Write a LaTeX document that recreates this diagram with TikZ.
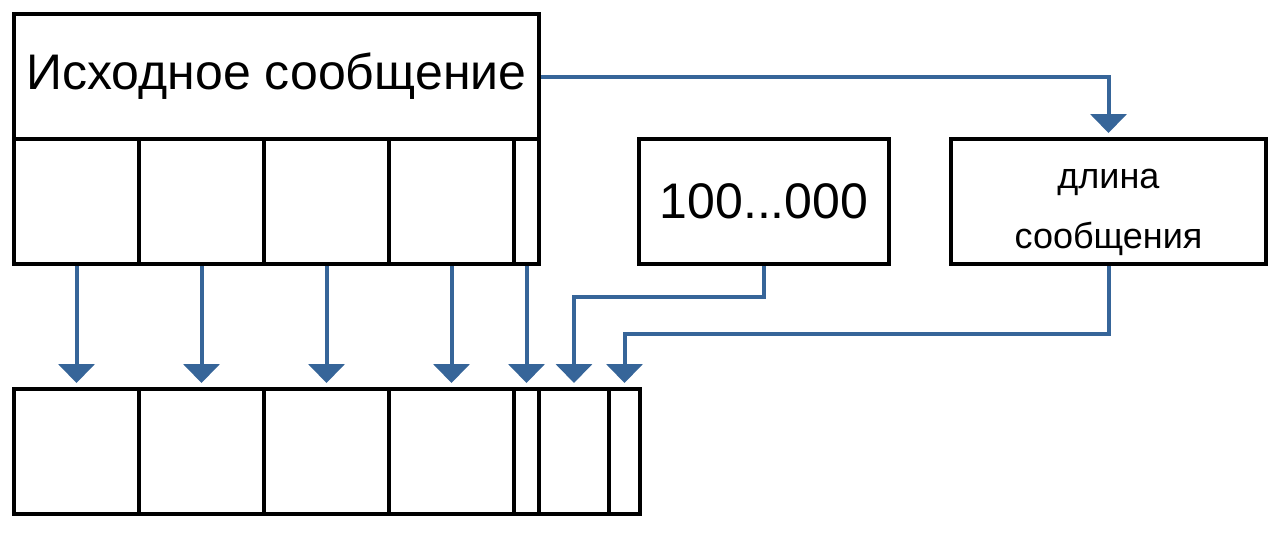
\documentclass[tikz,border=0pt]{standalone}
\usepackage{fontspec}
\setmainfont{Liberation Sans}
\usetikzlibrary{arrows.meta}
\definecolor{arrblue}{HTML}{366599}
\tikzset{
  cell/.style={draw=black, line width=4pt, inner sep=0pt, minimum height=125pt},
  conn/.style={draw=arrblue, line width=4pt, -{Triangle[width=36pt,length=19pt]}, shorten >=4pt},
}
\begin{document}
\begin{tikzpicture}[x=1pt,y=1pt]
\useasboundingbox (0,0) rectangle (1283,-533);
% top message
\node[cell, minimum width=525pt, font=\fontsize{50}{60}\selectfont] (top) at (276.5,-76.5) {Исходное сообщение};
\node[cell, minimum width=125pt] (c1) at (76.5,-201.5) {};
\node[cell, minimum width=125pt] (c2) at (201.5,-201.5) {};
\node[cell, minimum width=125pt] (c3) at (326.5,-201.5) {};
\node[cell, minimum width=125pt] (c4) at (451.5,-201.5) {};
\node[cell, minimum width=25pt] (c5) at (526.5,-201.5) {};
% padding and length boxes
\node[cell, minimum width=250pt, font=\fontsize{50}{60}\selectfont] (pad) at (764,-201.5) {100...000};
\node[cell, minimum width=315pt] (len) at (1108.5,-201.5) {};
\node[inner sep=0pt, font=\fontsize{36}{60}\selectfont, align=center] (lentext) at ([yshift=-11pt]len.center) {длина\\сообщения};
% bottom row
\node[cell, minimum width=125pt] (b1) at (76.5,-451.5) {};
\node[cell, minimum width=125pt] (b2) at (201.5,-451.5) {};
\node[cell, minimum width=125pt] (b3) at (326.5,-451.5) {};
\node[cell, minimum width=125pt] (b4) at (451.5,-451.5) {};
\node[cell, minimum width=25pt] (b5) at (526.5,-451.5) {};
\node[cell, minimum width=70pt] (b6) at (574,-451.5) {};
\node[cell, minimum width=31pt] (b7) at (624.5,-451.5) {};
% connectors
\draw[conn] (top.east) -| (len.north);
\draw[conn] (c1.south) -- (b1.north);
\draw[conn] (c2.south) -- (b2.north);
\draw[conn] (c3.south) -- (b3.north);
\draw[conn] (c4.south) -- (b4.north);
\draw[conn] (c5.south) -- (b5.north);
\coordinate (padturn) at ([yshift=-31pt]pad.south);
\coordinate (lenturn) at ([yshift=-68pt]len.south);
\draw[conn] (pad.south) -- (padturn) -| (b6.north);
\draw[conn] (len.south) -- (lenturn) -| (b7.north);
\end{tikzpicture}
\end{document}
